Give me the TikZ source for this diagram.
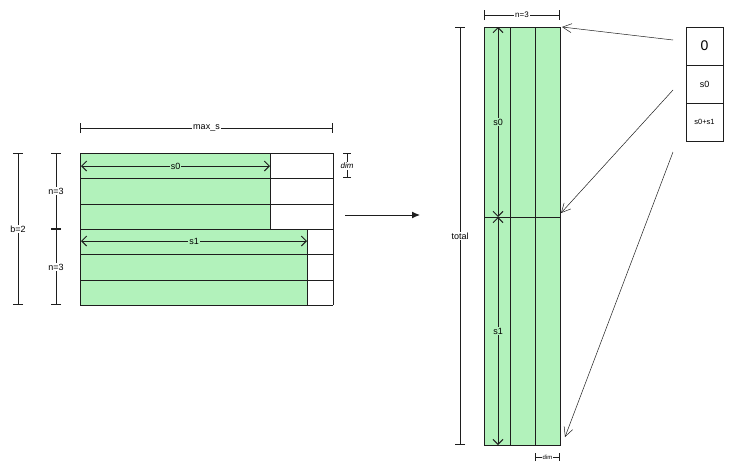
\documentclass[tikz,border=0pt]{standalone}
\usepackage{fontspec}
\setmainfont{Liberation Sans}
\usetikzlibrary{arrows.meta}
\definecolor{gr}{HTML}{B2F2BB}
\definecolor{ink}{HTML}{1E1E1E}
\begin{document}
\begin{tikzpicture}[x=1pt,y=-1pt,line width=0.6pt,draw=ink,
  dimA/.style={line width=1pt,{Bar[width=10pt]}-{Bar[width=10pt]}},
  dimB/.style={line width=1pt,{Straight Barb[length=5pt,width=10pt]}-{Straight Barb[length=5pt,width=10pt]}},
  lab/.style={fill=white,inner sep=1pt,font=\fontsize{9}{10}\selectfont},
  ptr/.style={line width=0.5pt,-{Straight Barb[length=9pt,width=9pt]}}]
\useasboundingbox (0,0) rectangle (730,469);
% left grid
\fill[gr] (80,153) rectangle (270,229);
\fill[gr] (80,229) rectangle (307,305);
\foreach \y in {153,178,204,229,254,280,305} \draw (80,\y) -- (333,\y);
\draw (80,153) -- (80,305) (333,153) -- (333,305) (270,153) -- (270,229) (307,229) -- (307,305);
\coordinate (ms1) at (80,128); \coordinate (ms2) at (333,128);
\draw[dimA] (ms1) -- node[lab]{max\_s} (ms2);
\coordinate (d1) at (347,153); \coordinate (d2) at (347,178);
\draw[line width=0.6pt,{Bar[width=8pt]}-{Bar[width=8pt]}] (d1) -- (d2);
\node[lab,font=\fontsize{8}{9}\selectfont\itshape] (dimL) at (347,166) {dim};
\coordinate (a1) at (56,153); \coordinate (a2) at (56,229); \coordinate (a3) at (56,305);
\draw[dimA] (a1) -- node[lab]{n=3} (a2);
\draw[dimA] (a2) -- node[lab]{n=3} (a3);
\coordinate (b1) at (18,153); \coordinate (b2) at (18,305);
\draw[dimA] (b1) -- node[lab]{b=2} (b2);
\coordinate (s0a) at (81,166); \coordinate (s0b) at (270,166);
\draw[dimB] (s0a) -- node[lab,fill=gr]{s0} (s0b);
\coordinate (s1a) at (81,241); \coordinate (s1b) at (307,241);
\draw[dimB] (s1a) -- node[lab,fill=gr]{s1} (s1b);
% big arrow
\coordinate (m1) at (345,215); \coordinate (m2) at (420,215);
\draw[line width=1pt,-{Latex[length=8pt,width=7pt]}] (m1) -- (m2);
% right column
\fill[gr] (484,27) rectangle (560,445);
\draw (484,27) rectangle (560,445);
\draw (510,27) -- (510,445) (535,27) -- (535,445) (484,217) -- (560,217);
\coordinate (n1) at (484,15); \coordinate (n2) at (560,15);
\draw[dimA] (n1) -- node[lab,font=\fontsize{8}{9}\selectfont]{n=3} (n2);
\coordinate (t1) at (460,27); \coordinate (t2) at (460,445);
\draw[dimA] (t1) -- node[lab]{total} (t2);
\coordinate (r0) at (498,27); \coordinate (r1) at (498,217); \coordinate (r2) at (498,445);
\draw[dimB] (r0) -- node[lab,fill=gr]{s0} (r1);
\draw[dimB] (r1) -- node[lab,fill=gr]{s1} (r2);
\coordinate (e1) at (535,457); \coordinate (e2) at (560,457);
\draw[line width=0.6pt,{Bar[width=8pt]}-{Bar[width=8pt]}] (e1) -- (e2);
\node[lab,font=\fontsize{6}{7}\selectfont] (dimR) at (547.5,457) {dim};
% table
\node[draw,minimum width=37pt,minimum height=38pt,inner sep=0,font=\fontsize{14}{15}\selectfont] (c0) at (704.5,46) {0};
\node[draw,minimum width=37pt,minimum height=38pt,inner sep=0,font=\fontsize{9}{10}\selectfont] (c1) at (704.5,84) {s0};
\node[draw,minimum width=37pt,minimum height=38pt,inner sep=0,font=\fontsize{7.5}{9}\selectfont] (c2) at (704.5,122) {s0+s1};
\coordinate (p0) at (673,40); \coordinate (q0) at (562,27);
\coordinate (p1) at (673,90); \coordinate (q1) at (561,213);
\coordinate (p2) at (673,152); \coordinate (q2) at (565,437);
\draw[ptr] (p0) -- (q0);
\draw[ptr] (p1) -- (q1);
\draw[ptr] (p2) -- (q2);
\end{tikzpicture}
\end{document}
